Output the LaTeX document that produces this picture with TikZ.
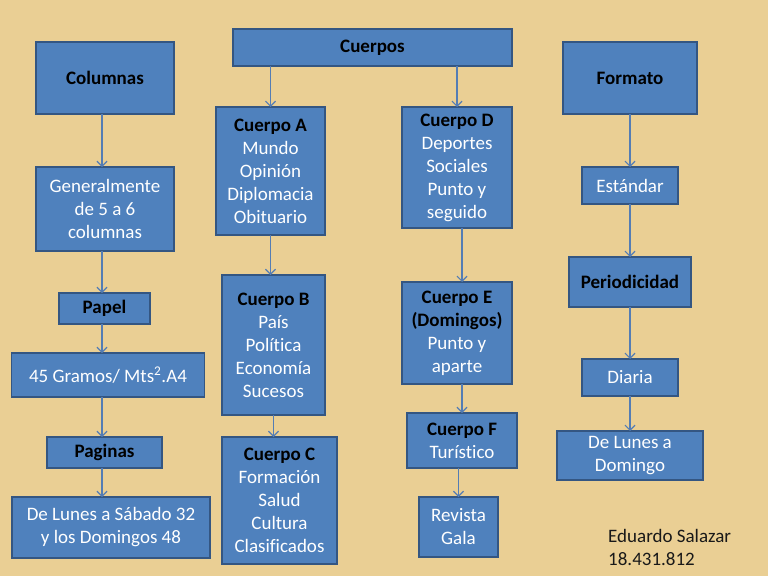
\documentclass[tikz,border=0pt]{standalone}
\usepackage{fontspec}
\setmainfont{Carlito}[Ligatures=NoCommon]
\usepackage{xcolor}
\usetikzlibrary{arrows.meta,positioning}
\definecolor{parchment}{RGB}{234,207,148}
\definecolor{boxfill}{RGB}{79,129,189}
\definecolor{boxline}{RGB}{52,86,130}
\definecolor{linkc}{RGB}{84,125,180}
\newcommand{\hd}[1]{{\color{black}\bfseries #1}}

\begin{document}
\begin{tikzpicture}[x=1pt, y=-1pt,
  box/.style={draw=boxline, fill=boxfill, line width=1.4pt, inner sep=0pt, outer sep=0pt, align=center, text=white, font=\fontsize{19}{23}\selectfont},
  arrow/.style={-{Straight Barb[length=5pt,width=10pt]}, draw=linkc, line width=1.2pt}
]
\fill[parchment] (0,0) rectangle (768,576);
\useasboundingbox (0,0) rectangle (768,576);

% left column
\node[box, minimum width=138pt, minimum height=72pt] (columnas) at (105,78) {\hd{Columnas}};
\node[box, minimum width=138pt, minimum height=84pt, below=53pt of columnas] (generalmente) {Generalmente\\de 5 a 6\\columnas};
\node[box, minimum width=91pt, minimum height=31pt, below=42pt of generalmente, xshift=-0.5pt] (papel) {\hd{Papel}};
\node[box, minimum width=193pt, minimum height=44pt, below=29pt of papel, xshift=3.5pt] (gramos) {45 Gramos/ Mts\textsuperscript{2}.A4};
\node[box, minimum width=115pt, minimum height=31pt, below=40pt of gramos, xshift=-3.5pt] (paginas) {\hd{Paginas}};
\node[box, minimum width=198pt, minimum height=61pt, below=29pt of paginas, xshift=6.5pt] (lunsab) {De Lunes a Sábado 32\\y los Domingos 48};
\coordinate (lx) at (102,0);

% cuerpos
\node[box, minimum width=279pt, minimum height=37pt] (cuerpos) at (372.5,47.5) {\hd{Cuerpos}};
\node[box, minimum width=109pt, minimum height=128pt] (ca) at (270.5,171) {\hd{Cuerpo A}\\Mundo\\Opinión\\Diplomacia\\Obituario};
\node[box, minimum width=103pt, minimum height=140pt, below=40pt of ca, xshift=3pt] (cb) {\hd{Cuerpo B}\\País\\Política\\Economía\\Sucesos};
\node[box, minimum width=115pt, minimum height=127pt, below=22pt of cb, xshift=6pt] (cc) {\hd{Cuerpo C}\\Formación\\Salud\\Cultura\\Clasificados};
\node[box, minimum width=110pt, minimum height=121pt] (cd) at (457,167.5) {\hd{Cuerpo D}\\Deportes\\Sociales\\Punto y\\seguido};
\node[box, minimum width=110pt, minimum height=102pt, below=54pt of cd] (ce) {\hd{Cuerpo E}\\\hd{(Domingos)}\\Punto y\\aparte};
\node[box, minimum width=110pt, minimum height=55pt, below=29pt of ce, xshift=5pt] (cf) {\hd{Cuerpo F}\\Turístico};
\node[box, minimum width=79pt, minimum height=60pt, below=29pt of cf, xshift=-3.5pt] (revista) {Revista\\Gala};

% formato
\node[box, minimum width=134pt, minimum height=72pt] (formato) at (630,78) {\hd{Formato}};
\node[box, minimum width=96pt, minimum height=37pt, below=53pt of formato] (estandar) {Estándar};
\node[box, minimum width=122pt, minimum height=50pt, below=53pt of estandar] (periodicidad) {\hd{Periodicidad}};
\node[box, minimum width=96pt, minimum height=37pt, below=52pt of periodicidad] (diaria) {Diaria};
\node[box, minimum width=146pt, minimum height=49pt, below=35pt of diaria] (lundom) {De Lunes a\\Domingo};

\node[anchor=north west, align=left, inner sep=0pt, text=black!90, font=\fontsize{19}{23}\selectfont] (autor) at (608,529) {Eduardo Salazar\\18.431.812};

\draw[arrow] (lx |- columnas.south) -- (lx |- generalmente.north);
\draw[arrow] (lx |- generalmente.south) -- (lx |- papel.north);
\draw[arrow] (lx |- papel.south) -- (lx |- gramos.north);
\draw[arrow] (lx |- gramos.south) -- (lx |- paginas.north);
\draw[arrow] (lx |- paginas.south) -- (lx |- lunsab.north);

\draw[arrow] (ca.north |- cuerpos.south) -- (ca.north);
\draw[arrow] (cd.north |- cuerpos.south) -- (cd.north);
\draw[arrow] (ca.south) -- (ca.south |- cb.north);
\draw[arrow] (cb.south) -- (cb.south |- cc.north);
\draw[arrow] (cf.north |- cd.south) -- (cf.north |- ce.north);
\draw[arrow] (cf.north |- ce.south) -- (cf.north);
\draw[arrow] (revista.north |- cf.south) -- (revista.north);

\draw[arrow] (formato) -- (estandar);
\draw[arrow] (estandar) -- (periodicidad);
\draw[arrow] (periodicidad) -- (diaria);
\draw[arrow] (diaria) -- (lundom);
\end{tikzpicture}
\end{document}
